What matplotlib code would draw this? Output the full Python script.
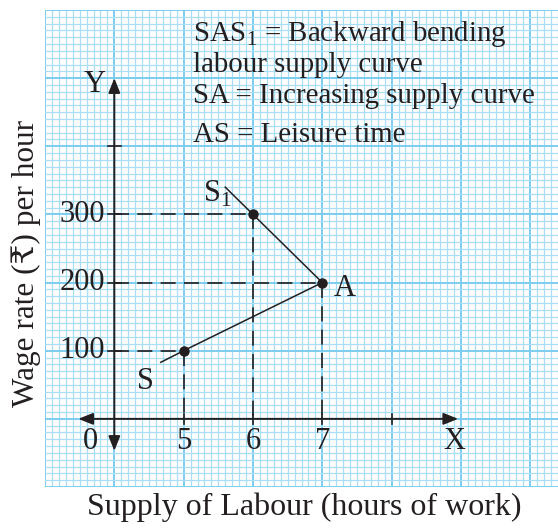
import numpy as np
from matplotlib import pyplot as plt

# Data
hours = [5, 6, 7]                  # points marked on the curve
wage = [100, 300, 200]
sa_hours = [4.67, 5, 7]            # increasing part S -> A
sa_wage = [83, 100, 200]
as1_hours = [7, 6, 5.6]            # backward bending part A -> S1
as1_wage = [200, 300, 340]
x_ticks = [5, 6, 7, 8]
x_labels = ["5", "6", "7"]
y_ticks = [100, 200, 300, 400]
y_labels = ["100", "200", "300"]
notes = ["SAS$_{\\mathregular{1}}$ = Backward bending", "labour supply curve",
         "SA = Increasing supply curve", "AS = Leisure time"]

plt.rcParams['font.family'] = ['Liberation Serif', 'DejaVu Serif', 'DejaVu Sans']
plt.rcParams['mathtext.fontset'] = 'custom'
plt.rcParams['mathtext.rm'] = 'Liberation Serif'

ink = '#231f20'
W, H = 558, 529
fig = plt.figure(figsize=(W / 100, H / 100), dpi=100)
ax = fig.add_axes([45 / W, 42 / H, 513 / W, 477 / H])
ax.set_xlim(3, 10.4)
ax.set_ylim(-100, 600)

# graph paper
ax.set_xticks(np.arange(3, 11, 1))
ax.set_yticks(np.arange(-100, 601, 100))
ax.set_xticks(np.arange(3, 10.41, 0.1), minor=True)
ax.set_yticks(np.arange(-100, 601, 10), minor=True)
ax.grid(which='major', color='#7ccdf0', lw=1.4)
ax.grid(which='minor', color='#a9def5', lw=0.9)
ax.tick_params(which='both', length=0, labelbottom=False, labelleft=False)
for s in ax.spines.values():
    s.set_visible(False)
ax.set_axisbelow(True)

# axes with arrows
arr = dict(arrowstyle='<|-|>,head_length=0.55,head_width=0.22', color=ink,
           lw=1.4, mutation_scale=16, shrinkA=0, shrinkB=0)
ax.annotate('', xy=(8.96, 0), xytext=(3.48, 0), arrowprops=arr)
ax.annotate('', xy=(4, 500), xytext=(4, -47), arrowprops=arr)
for t in x_ticks:
    ax.plot([t, t], [-7, 7], color=ink, lw=1.2)
for t in y_ticks:
    ax.plot([3.91, 4.09], [t, t], color=ink, lw=1.2)

# dashed guides
for h, w in zip(hours, wage):
    ax.plot([4, h], [w, w], color=ink, lw=1.2, dashes=(9, 5))
    ax.plot([h, h], [w, 0], color=ink, lw=1.2, dashes=(9, 5))

# supply curve
ax.plot(sa_hours, sa_wage, color=ink, lw=1.1)
ax.plot(as1_hours, as1_wage, color=ink, lw=1.1)
ax.plot(hours, wage, 'o', color=ink, ms=6.5)

# labels
fs = 22
for t, lab in zip(x_ticks, x_labels):
    ax.text(t, -33, lab, ha='center', va='center', fontsize=fs, color=ink)
ax.text(3.66, -33, "0", ha='center', va='center', fontsize=fs, color=ink)
for t, lab in zip(y_ticks, y_labels):
    ax.text(3.87, t, lab, ha='right', va='center', fontsize=fs, color=ink)
ax.text(3.72, 490, "Y", ha='center', va='center', fontsize=fs, color=ink)
ax.text(8.9, -33, "X", ha='center', va='center', fontsize=fs, color=ink)
ax.text(4.45, 55, "S", ha='center', va='center', fontsize=fs, color=ink)
ax.text(5.48, 330, "S$_{\\mathregular{1}}$", ha='center', va='center', fontsize=fs, color=ink)
ax.text(7.33, 192, "A", ha='center', va='center', fontsize=fs, color=ink)

for i, line in enumerate(notes):
    ax.text(5.14, [555, 509, 463, 406][i], line, ha='left', va='baseline',
            fontsize=20.8, color=ink)

fig.text(26 / W, 1 - 263 / H, "Wage rate (\u20b9) per hour", rotation=90,
         ha='center', va='center', fontsize=22.5, color=ink)
fig.text(304 / W, 1 - 507 / H, "Supply of Labour (hours of work)",
         ha='center', va='center', fontsize=23, color=ink)

fig.savefig('out.png', dpi=100)
